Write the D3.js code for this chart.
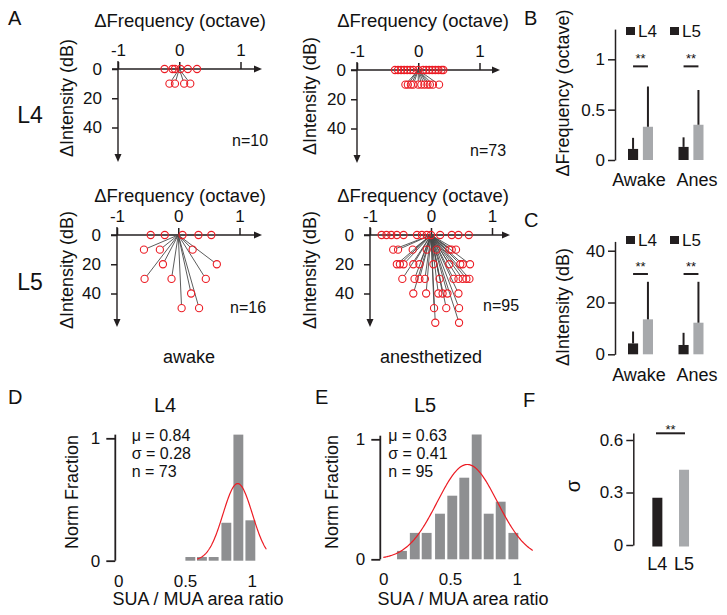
<!DOCTYPE html>
<html><head><meta charset="utf-8">
<script src="https://cdn.jsdelivr.net/npm/d3@7"></script>
<style>
html,body{margin:0;padding:0;background:#fff;}
svg{display:block;font-family:"Liberation Sans",Arial,Helvetica,sans-serif;}
</style></head>
<body><svg id="c" width="727" height="615"></svg>
<script>
// ---------------- DATA ----------------
const freqTicks = [-1, 0, 1];
const intensityTicks = [0, 20, 40];

// Panel A: best-frequency / best-intensity offsets, grouped by intensity level (dB)
const l4AwakeLevels = [0, 10];
const l4AwakeFreq = [[-0.24, -0.11, -0.07, 0.02, 0.14, 0.29], [-0.16, -0.07, 0.08, 0.18]];
const l4AnesLevels = [0, 10];
const l4AnesFreq = [[-0.38, -0.33, -0.28, -0.23, -0.18, -0.13, -0.08, 0, 0.08, 0.13, 0.18, 0.23, 0.28, 0.33, 0.38, 0.41],
                    [-0.21, -0.17, -0.12, -0.08, 0.0, 0.05, 0.1, 0.15, 0.19, 0.24, 0.34]];
const l5AwakeLevels = [0, 10, 20, 30, 40, 50];
const l5AwakeFreq = [[-0.45, -0.22, 0.07, 0.33, 0.54], [-0.56, -0.30, 0.235], [-0.25, 0.63],
                     [-0.55, -0.11, 0.45], [0.21], [0.055, 0.34]];
const l5AnesLevels = [0, 10, 20, 30, 40, 50, 60];
const l5AnesFreq = [[-0.81, -0.73, -0.65, -0.56, -0.45, -0.23, -0.15, -0.07, 0, 0.15, 0.34, 0.45, 0.62],
                    [-0.62, -0.54, -0.30, -0.07, 0.09, 0.30, 0.34, 0.41],
                    [-0.56, -0.51, -0.45, -0.29, -0.19, 0.04, 0.30, 0.48, 0.52, 0.64],
                    [-0.47, -0.27, -0.19, -0.10, 0.14, 0.37, 0.45, 0.52, 0.58, 0.63],
                    [-0.29, -0.08, 0.12, 0.19, 0.27, 0.45],
                    [0.05, 0.25, 0.46],
                    [0.07, 0.46]];
const nLabels = ["n=10", "n=73", "n=16", "n=95"];

// Panels B, C
const conditions = ["Awake", "Anes"];
const layers = ["L4", "L5"];
const freqMeanL4 = [0.11, 0.13], freqMeanL5 = [0.33, 0.35];
const freqSdL4 = [0.11, 0.095], freqSdL5 = [0.40, 0.345];
const freqTicksB = [0, 0.5, 1];
const freqTickLabelsB = ["0", "0.5", "1"];
const intMeanL4 = [4.2, 3.6], intMeanL5 = [13.5, 12.2];
const intSdL4 = [4.6, 4.7], intSdL5 = [14.5, 15.8];
const intTicksC = [0, 20, 40];

// Panels D, E: histograms of SUA/MUA area ratio (bin centres, normalised fraction)
const histL4Centers = [0.54, 0.627, 0.715, 0.81, 0.90, 0.99];
const histL4Values = [0.03, 0.03, 0.03, 0.31, 1.03, 0.33];
const histL5Centers = [0.14, 0.236, 0.325, 0.425, 0.517, 0.607, 0.70, 0.79, 0.88, 0.975];
const histL5Values = [0.07, 0.22, 0.22, 0.38, 0.53, 0.68, 1.04, 0.38, 0.48, 0.22];
const fitL4 = {mu: 0.895, sd: 0.11, amp: 0.63, from: 0.59, to: 1.11};
const fitL5 = {mu: 0.63, sd: 0.225, amp: 0.79, from: 0.0, to: 1.12};
const statsL4 = ["\u03bc = 0.84", "\u03c3 = 0.28", "n = 73"];
const statsL5 = ["\u03bc = 0.63", "\u03c3 = 0.41", "n = 95"];
const ratioTicks = [0, 0.5, 1];
const fracTicks = [0, 1];

// Panel F
const sigmaValues = [0.27, 0.43];
const sigmaTicks = [0, 0.3, 0.6];

// ---------------- STYLE ----------------
const BLACK = "#231f20", GRAY_BAR = "#a7a9ac", HIST = "#8e8f91", RED = "#ec1c24", LINE = "#4a4a4a";
const svg = d3.select("#c");

function txt(x, y, s, size, anchor = "start", g = svg) {
  return g.append("text").attr("x", x).attr("y", y).attr("font-size", size)
    .attr("text-anchor", anchor).attr("fill", "#111").text(s);
}
function vtxt(cx, cy, s, size) {
  return svg.append("text").attr("transform", `translate(${cx},${cy}) rotate(-90)`)
    .attr("text-anchor", "middle").attr("dy", "0.35em").attr("font-size", size).attr("fill", "#111").text(s);
}
function styleAxis(a, fs) {
  a.selectAll(".domain").remove();
  a.selectAll(".tick line").attr("stroke", BLACK).attr("stroke-width", 1.5);
  a.selectAll(".tick text").attr("font-size", fs).attr("fill", "#111").attr("font-family", null);
}

// ---------------- PANEL A ----------------
function scatter(c) {
  const xs = d3.scaleLinear().domain([-1, 1]).range([c.xm1, c.xp1]);
  const ys = d3.scaleLinear().domain([0, 40]).range([c.y0, c.y40]);
  const g = svg.append("g");
  // axes lines
  g.append("line").attr("x1", c.xm1 - 6).attr("x2", c.xEnd - 6).attr("y1", c.y0).attr("y2", c.y0)
    .attr("stroke", BLACK).attr("stroke-width", 1.4);
  g.append("path").attr("d", `M${c.xEnd},${c.y0} L${c.xEnd - 8},${c.y0 - 3.5} L${c.xEnd - 8},${c.y0 + 3.5} Z`).attr("fill", BLACK);
  g.append("line").attr("x1", c.xm1).attr("x2", c.xm1).attr("y1", c.y0 - 8).attr("y2", c.yEnd - 6)
    .attr("stroke", BLACK).attr("stroke-width", 1.4);
  g.append("path").attr("d", `M${c.xm1},${c.yEnd} L${c.xm1 - 3.5},${c.yEnd - 8} L${c.xm1 + 3.5},${c.yEnd - 8} Z`).attr("fill", BLACK);
  const ax = g.append("g").attr("transform", `translate(0,${c.y0})`)
    .call(d3.axisTop(xs).tickValues(freqTicks).tickFormat(d => d === -1 ? "-1" : d3.format("d")(d)).tickSize(7).tickPadding(6));
  styleAxis(ax, 17);
  const ay = g.append("g").attr("transform", `translate(${c.xm1},0)`)
    .call(d3.axisLeft(ys).tickValues(intensityTicks).tickSize(6).tickPadding(c.ypad));
  styleAxis(ay, 17);
  // points
  const pts = [];
  c.levels.forEach((lv, i) => c.freq[i].forEach(f => pts.push({f, lv})));
  const ox = xs(0), oy = ys(0), r = 3.6;
  pts.forEach(p => {
    const px = xs(p.f), py = ys(p.lv);
    const dx = px - ox, dy = py - oy, L = Math.hypot(dx, dy);
    if (L > r) {
      g.append("line").attr("x1", ox).attr("y1", oy)
        .attr("x2", ox + dx * (L - r) / L).attr("y2", oy + dy * (L - r) / L)
        .attr("stroke", LINE).attr("stroke-width", 0.9);
    }
  });
  g.selectAll("circle.pt").data(pts).enter().append("circle")
    .attr("cx", d => xs(d.f)).attr("cy", d => ys(d.lv)).attr("r", r)
    .attr("fill", "none").attr("stroke", RED).attr("stroke-width", 1.1);
}

scatter({xm1: 118, xp1: 240.5, y0: 69, y40: 127.5, xEnd: 262, yEnd: 162, ypad: 10, levels: l4AwakeLevels, freq: l4AwakeFreq});
scatter({xm1: 357, xp1: 479.5, y0: 70, y40: 128.5, xEnd: 500, yEnd: 163, ypad: 5, levels: l4AnesLevels, freq: l4AnesFreq});
scatter({xm1: 117, xp1: 239.5, y0: 235, y40: 293.5, xEnd: 262, yEnd: 327, ypad: 10, levels: l5AwakeLevels, freq: l5AwakeFreq});
scatter({xm1: 370, xp1: 492, y0: 235, y40: 293.5, xEnd: 510, yEnd: 327, ypad: 10, levels: l5AnesLevels, freq: l5AnesFreq});

txt(8, 25, "A", 20);
txt(180, 27, "\u0394Frequency (octave)", 18.5, "middle");
txt(423, 27, "\u0394Frequency (octave)", 18.5, "middle");
txt(180, 202, "\u0394Frequency (octave)", 18.5, "middle");
txt(423, 202, "\u0394Frequency (octave)", 18.5, "middle");
vtxt(67, 98, "\u0394Intensity (dB)", 18);
vtxt(310, 96, "\u0394Intensity (dB)", 18);
vtxt(67, 270, "\u0394Intensity (dB)", 18);
vtxt(310, 270, "\u0394Intensity (dB)", 18);
txt(30, 123, "L4", 23, "middle");
txt(30, 290, "L5", 23, "middle");
txt(232, 146, nLabels[0], 16);
txt(470, 156, nLabels[1], 16);
txt(230, 313, nLabels[2], 16);
txt(483, 311, nLabels[3], 16);
txt(189, 363, "awake", 18, "middle");
txt(431, 363, "anesthetized", 18, "middle");

// ---------------- PANELS B & C ----------------
function barPanel(c) {
  const ys = d3.scaleLinear().domain([0, c.ymax]).range([c.y0, c.yTop]);
  const xg = d3.scaleBand().domain(conditions).range([615, 716]).paddingInner(0).paddingOuter(0);
  const xl = d3.scaleBand().domain(layers).range([13, 38]).paddingInner(0.32).paddingOuter(0);
  const g = svg.append("g");
  const ay = g.append("g").attr("transform", "translate(615,0)")
    .call(d3.axisLeft(ys).tickValues(c.ticks).tickFormat((d, i) => c.tickLabels[i]).tickSize(7).tickPadding(3).tickSizeOuter(0));
  ay.select(".domain").attr("stroke", BLACK).attr("stroke-width", 1.5);
  ay.selectAll(".tick line").attr("stroke", BLACK).attr("stroke-width", 1.5);
  ay.selectAll(".tick text").attr("font-size", 17).attr("fill", "#111").attr("font-family", null);
  conditions.forEach((cond, i) => {
    const series = [{l: "L4", m: c.meanL4[i], s: c.sdL4[i], col: BLACK}, {l: "L5", m: c.meanL5[i], s: c.sdL5[i], col: GRAY_BAR}];
    series.forEach(d => {
      const x = xg(cond) + xl(d.l);
      g.append("rect").attr("x", x).attr("width", xl.bandwidth()).attr("y", ys(d.m)).attr("height", ys(0) - ys(d.m)).attr("fill", d.col);
      g.append("line").attr("x1", x + xl.bandwidth() / 2).attr("x2", x + xl.bandwidth() / 2)
        .attr("y1", ys(d.m)).attr("y2", ys(d.m + d.s)).attr("stroke", BLACK).attr("stroke-width", 2);
    });
    const xa = xg(cond) + xl("L4") + xl.bandwidth() / 2, xb = xg(cond) + xl("L5") + xl.bandwidth() / 2;
    g.append("line").attr("x1", xa).attr("x2", xb).attr("y1", ys(c.sig)).attr("y2", ys(c.sig)).attr("stroke", BLACK).attr("stroke-width", 2);
    txt((xa + xb) / 2, ys(c.sig) - 3, "**", 13, "middle");
  });
  // legend (both swatches black, as in the original)
  layers.forEach((l, i) => {
    const lx = 626 + i * 44;
    g.append("rect").attr("x", lx).attr("y", c.legY - 4).attr("width", 9).attr("height", 8).attr("fill", BLACK);
    txt(lx + 12, c.legY + 6, l, 17);
  });
  txt(639, c.labY, "Awake", 18, "middle");
  txt(697, c.labY, "Anes", 18, "middle");
}
barPanel({ymax: 1.3, y0: 160, yTop: 29.1, ticks: freqTicksB, tickLabels: freqTickLabelsB,
  meanL4: freqMeanL4, meanL5: freqMeanL5, sdL4: freqSdL4, sdL5: freqSdL5, sig: 0.93, legY: 31, labY: 186});
barPanel({ymax: 43.6, y0: 354.3, yTop: 241.4, ticks: intTicksC, tickLabels: intTicksC.map(String),
  meanL4: intMeanL4, meanL5: intMeanL5, sdL4: intSdL4, sdL5: intSdL5, sig: 31, legY: 240, labY: 381});
txt(524, 25, "B", 20);
txt(524, 227, "C", 20);
vtxt(563, 93, "\u0394Frequency (octave)", 18);
vtxt(563, 307, "\u0394Intensity (dB)", 18);

// ---------------- PANELS D & E ----------------
function histPanel(c) {
  const xs = d3.scaleLinear().domain([0, 1]).range([c.x0, c.x1]);
  const ys = d3.scaleLinear().domain([0, 1]).range([c.y0, c.y1]);
  const g = svg.append("g");
  const top = ys(1.03);
  g.append("line").attr("x1", c.x0 - 3).attr("x2", c.x0 - 3).attr("y1", ys(0)).attr("y2", top).attr("stroke", BLACK).attr("stroke-width", 1.8);
  const ay = g.append("g").attr("transform", `translate(${c.x0 - 3},0)`)
    .call(d3.axisLeft(ys).tickValues(fracTicks).tickFormat(d3.format("d")).tickSize(9).tickPadding(6));
  styleAxis(ay, 17);
  ay.selectAll(".tick line").attr("stroke-width", 1.8);
  const ax = g.append("g").attr("transform", `translate(0,${c.y0})`)
    .call(d3.axisBottom(xs).tickValues(ratioTicks).tickFormat(d => d === 0.5 ? "0.5" : d3.format("d")(d)).tickSize(0).tickPadding(14));
  styleAxis(ax, 17);
  const bw = 0.074;
  c.centers.forEach((ctr, i) => {
    g.append("rect").attr("x", xs(ctr - bw / 2)).attr("width", xs(bw) - xs(0))
      .attr("y", ys(c.values[i])).attr("height", ys(0) - ys(c.values[i])).attr("fill", HIST);
  });
  const f = c.fit;
  const xsamp = d3.range(f.from, f.to + 1e-9, 0.005);
  const line = d3.line().x(d => xs(d)).y(d => ys(f.amp * Math.exp(-((d - f.mu) ** 2) / (2 * f.sd * f.sd))));
  g.append("path").attr("d", line(xsamp)).attr("fill", "none").attr("stroke", RED).attr("stroke-width", 1.2);
  c.stats.forEach((s, i) => txt(c.statsX, 440.5 + i * 18.3, s, 16));
  txt(c.titleX, 412, c.title, 20, "middle");
  vtxt(c.labX, 492, "Norm Fraction", 18);
  txt((xs(0) + xs(1)) / 2 + 13, 605, "SUA / MUA area ratio", 18, "middle");
}
histPanel({x0: 118.3, x1: 251.7, y0: 560.7, y1: 438.3, centers: histL4Centers, values: histL4Values, fit: fitL4,
  stats: statsL4, statsX: 131.7, title: "L4", titleX: 165, labX: 72});
histPanel({x0: 383.3, x1: 516.7, y0: 559.3, y1: 439.3, centers: histL5Centers, values: histL5Values, fit: fitL5,
  stats: statsL5, statsX: 388.3, title: "L5", titleX: 425, labX: 332});
txt(8, 404, "D", 20);
txt(315, 404, "E", 20);

// ---------------- PANEL F ----------------
(function () {
  const ys = d3.scaleLinear().domain([0, 0.64]).range([545, 433]);
  const xb = d3.scaleBand().domain(layers).range([639, 702.4]).paddingInner(0.625).paddingOuter(0.5);
  const g = svg.append("g");
  const ay = g.append("g").attr("transform", "translate(633.3,0)")
    .call(d3.axisLeft(ys).tickValues(sigmaTicks).tickFormat(d => d === 0 ? "0" : d3.format(".1f")(d)).tickSize(7).tickPadding(3).tickSizeOuter(0));
  ay.select(".domain").attr("stroke", BLACK).attr("stroke-width", 1.5);
  ay.selectAll(".tick line").attr("stroke", BLACK).attr("stroke-width", 1.5);
  ay.selectAll(".tick text").attr("font-size", 17).attr("fill", "#111").attr("font-family", null);
  layers.forEach((l, i) => {
    g.append("rect").attr("x", xb(l)).attr("width", xb.bandwidth()).attr("y", ys(sigmaValues[i]))
      .attr("height", ys(0) - ys(sigmaValues[i]) + 1.5).attr("fill", i === 0 ? BLACK : GRAY_BAR);
    txt(xb(l) + xb.bandwidth() / 2, 570, l, 18, "middle");
  });
  const sy = 433.3;
  g.append("line").attr("x1", 656).attr("x2", 685).attr("y1", sy).attr("y2", sy).attr("stroke", BLACK).attr("stroke-width", 2);
  txt(670.5, sy + 0.5, "**", 13, "middle");
  txt(523, 407, "F", 20);
  vtxt(573, 486, "\u03c3", 20);
})();
</script></body></html>
